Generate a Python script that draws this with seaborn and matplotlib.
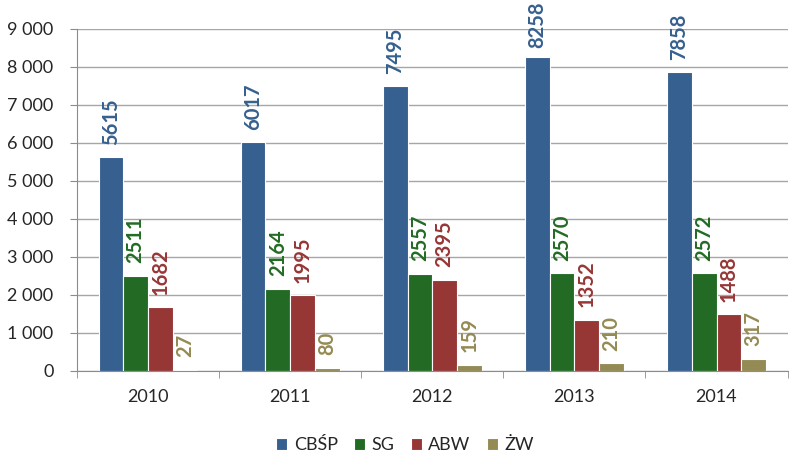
import pandas as pd
import matplotlib.pyplot as plt
import matplotlib.ticker as mticker
import seaborn as sns

# ======= DATA =======
years = ["2010", "2011", "2012", "2013", "2014"]
series = ["CBŚP", "SG", "ABW", "ŻW"]
cbsp = [5615, 6017, 7495, 8258, 7858]
sg = [2511, 2164, 2557, 2570, 2572]
abw = [1682, 1995, 2395, 1352, 1488]
zw = [27, 80, 159, 210, 317]
# ====================

bar_colors = ["#36608F", "#236B24", "#963736", "#948A54"]
label_colors = ["#36608F", "#236B24", "#963736", "#948A54"]

df = pd.DataFrame({
    "year": years * 4,
    "series": [s for s in series for _ in years],
    "value": cbsp + sg + abw + zw,
})

sns.set_style("white")
plt.rcParams["font.family"] = ["Lato", "DejaVu Sans"]

fig = plt.figure(figsize=(8.02, 4.72), dpi=100)
ax = fig.add_axes([0.096, 0.214, 0.886, 0.725])

sns.barplot(
    data=df, x="year", y="value", hue="series",
    palette=bar_colors, width=0.695, edgecolor="white", linewidth=0.8,
    saturation=1, ax=ax,
)

ax.set_ylim(0, 9000)
ax.set_xlim(-0.5, 4.5)

# value labels above the bars
anns = []
for cont, col in zip(ax.containers, label_colors):
    anns += ax.bar_label(cont, labels=[str(int(v)) for v in cont.datavalues],
                         rotation=90, padding=9, color=col, fontsize=14.5,
                         fontweight="bold")

# push labels that would leave the figure back down (like the original)
fig.canvas.draw()
renderer = fig.canvas.get_renderer()
fig_h = fig.bbox.height
for ann in anns:
    top = ann.get_window_extent(renderer).y1
    if top > fig_h - 2:
        over_pt = (top - fig_h + 2) * 72 / fig.dpi
        x_off, y_off = ann.xyann
        ann.xyann = (x_off, y_off - over_pt)

ax.yaxis.set_major_locator(mticker.MultipleLocator(1000))
ax.yaxis.set_major_formatter(
    mticker.FuncFormatter(lambda v, p: f"{int(v):,}".replace(",", " ")))
ax.grid(axis="y", color="#A6A6A6", linewidth=1)
ax.set_axisbelow(True)

for side in ["top", "right"]:
    ax.spines[side].set_visible(False)
for side in ["left", "bottom"]:
    ax.spines[side].set_color("#8C8C8C")

ax.xaxis.set_minor_locator(mticker.FixedLocator([i - 0.5 for i in range(6)]))
ax.tick_params(axis="x", which="major", length=0, labelsize=13, pad=13,
               colors="#262626")
ax.tick_params(axis="x", which="minor", length=5, color="#8C8C8C",
               direction="out", bottom=True)
ax.tick_params(axis="y", length=5, color="#8C8C8C", labelsize=13, pad=12,
               colors="#262626", left=True, direction="out")
ax.set_xlabel("")
ax.set_ylabel("")

handles, labels = ax.get_legend_handles_labels()
ax.legend(handles, labels, ncol=4, loc="center", frameon=False,
          bbox_to_anchor=(0.505, 0.057), bbox_transform=fig.transFigure,
          fontsize=13, handlelength=0.62, handleheight=0.62,
          handletextpad=0.35, columnspacing=0.9)

plt.savefig("out.png", dpi=100)
